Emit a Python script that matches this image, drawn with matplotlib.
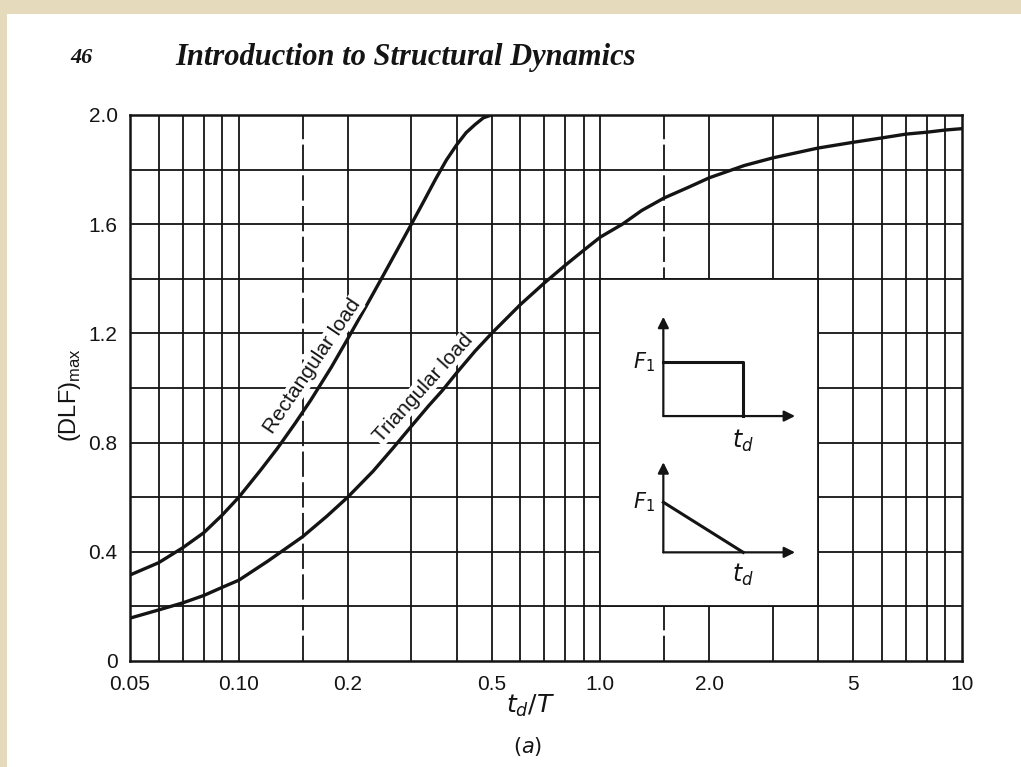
"""Maximum dynamic load factor vs t_d/T for rectangular and triangular pulse loads."""
import matplotlib
matplotlib.use("Agg")
import matplotlib.pyplot as plt
from matplotlib.patches import Rectangle

# values
rect_x = [0.05, 0.06, 0.07, 0.08, 0.09, 0.10, 0.115, 0.128, 0.143, 0.158, 0.18, 0.2,
          0.225, 0.249, 0.274, 0.3, 0.325, 0.35, 0.375, 0.4, 0.425, 0.45, 0.475, 0.5]
rect_y = [0.315, 0.36, 0.415, 0.47, 0.535, 0.60, 0.70, 0.78, 0.87, 0.955, 1.075, 1.18,
          1.30, 1.405, 1.505, 1.60, 1.685, 1.765, 1.835, 1.89, 1.935, 1.965, 1.99, 2.0]
tri_x = [0.05, 0.06, 0.07, 0.08, 0.09, 0.10, 0.12, 0.15, 0.175, 0.2, 0.235, 0.267, 0.3,
         0.335, 0.365, 0.4, 0.45, 0.5, 0.6, 0.7, 0.8, 0.9, 1.0, 1.15, 1.3, 1.5, 1.75,
         2.0, 2.5, 3.0, 4.0, 5.0, 6.0, 7.0, 8.0, 9.0, 10.0]
tri_y = [0.157, 0.187, 0.213, 0.24, 0.27, 0.296, 0.365, 0.455, 0.53, 0.60, 0.695, 0.78, 0.86,
         0.935, 0.99, 1.055, 1.135, 1.20, 1.305, 1.385, 1.45, 1.505, 1.553, 1.60, 1.65,
         1.696, 1.735, 1.77, 1.815, 1.843, 1.879, 1.90, 1.916, 1.93, 1.937, 1.945, 1.95]

x_ticks = [0.05, 0.1, 0.2, 0.5, 1.0, 2.0, 5.0, 10.0]
x_tick_labels = ["0.05", "0.10", "0.2", "0.5", "1.0", "2.0", "5", "10"]
y_ticks = [0, 0.4, 0.8, 1.2, 1.6, 2.0]
y_tick_labels = ["0", "0.4", "0.8", "1.2", "1.6", "2.0"]
v_grid = [0.06, 0.07, 0.08, 0.09, 0.1, 0.2, 0.3, 0.4, 0.5, 0.6, 0.7, 0.8, 0.9, 1.0,
          2.0, 3.0, 4.0, 5.0, 6.0, 7.0, 8.0, 9.0]
v_grid_dashed = [0.15, 1.5]
h_grid = [0.2, 0.4, 0.6, 0.8, 1.0, 1.2, 1.4, 1.6, 1.8]

INK = "#141414"
SANS = ["Liberation Sans", "DejaVu Sans"]

fig = plt.figure(figsize=(10.21, 7.67), dpi=100, facecolor="white")
# tan scan border (top and left)
fig.patches.append(Rectangle((0, 753 / 767), 1, 14 / 767, transform=fig.transFigure,
                             fc="#e6dabd", ec="none", zorder=0))
fig.patches.append(Rectangle((0, 0), 7 / 1021, 1, transform=fig.transFigure,
                             fc="#e6dabd", ec="none", zorder=0))

fig.text(70 / 1021, 1 - 58 / 767, "46", fontsize=16, fontweight="bold", fontstyle="italic",
         family="Liberation Serif", color=INK, va="center", ha="left")
fig.text(175 / 1021, 1 - 58 / 767, "Introduction to Structural Dynamics", fontsize=22,
         fontweight="bold", fontstyle="italic", family="Liberation Serif", color=INK,
         va="center", ha="left")

ax = fig.add_axes([130 / 1021, 106 / 767, 832 / 1021, 546 / 767])
ax.set_xscale("log")
ax.set_xlim(0.05, 10)
ax.set_ylim(0, 2.0)

for v in v_grid:
    ax.axvline(v, color=INK, lw=1.3, zorder=1)
for v in v_grid_dashed:
    ax.axvline(v, color=INK, lw=1.3, ls=(0, (14, 3)), zorder=1)
for h in h_grid:
    ax.axhline(h, color=INK, lw=1.3, zorder=1)

# white panel holding the load sketches
ax.add_patch(Rectangle((1.0, 0.2), 3.0, 1.2, fc="white", ec=INK, lw=1.3, zorder=2))

ax.plot(rect_x, rect_y, color=INK, lw=2.4, zorder=3, solid_capstyle="round")
ax.plot(tri_x, tri_y, color=INK, lw=2.4, zorder=3, solid_capstyle="round")

ax.text(0.16, 1.08, "Rectangular load", rotation=56, fontsize=15, family=SANS, color=INK,
        ha="center", va="center", zorder=4,
        bbox=dict(fc="white", ec="none", pad=0.5))
ax.text(0.323, 1.0, "Triangular load", rotation=48, fontsize=15, family=SANS, color=INK,
        ha="center", va="center", zorder=4,
        bbox=dict(fc="white", ec="none", pad=0.5))

ax.set_xticks(x_ticks)
ax.set_xticklabels(x_tick_labels)
ax.set_yticks(y_ticks)
ax.set_yticklabels(y_tick_labels)
ax.minorticks_off()
ax.tick_params(length=0, pad=9, labelsize=15, colors=INK)
ax.tick_params(axis="x", pad=10)
for lab in ax.get_xticklabels() + ax.get_yticklabels():
    lab.set_family(SANS)
for s in ax.spines.values():
    s.set_linewidth(1.8)
    s.set_color(INK)
    s.set_zorder(5)

fig.text(70 / 1021, 1 - 395 / 767, r"(DLF)$_{\mathregular{max}}$", rotation=90, fontsize=17,
         family=SANS, color=INK, ha="center", va="center")
fig.text(530 / 1021, 1 - 706 / 767, r"$t_d/T$", fontsize=18, color=INK, ha="center",
         va="center", math_fontfamily="dejavusans")
fig.text(528 / 1021, 1 - 746 / 767, r"$(a)$", fontsize=15, color=INK, ha="center",
         va="center", math_fontfamily="dejavusans")

# load sketches in the panel
ins = ax.inset_axes([1.0, 0.2, 3.0, 1.2], transform=ax.transData)
ins.set_xlim(0, 1)
ins.set_ylim(0, 1)
ins.axis("off")
arrow = dict(arrowstyle="-|>", color=INK, lw=1.6, mutation_scale=16, shrinkA=0, shrinkB=0)
for y0, ytop in [(0.581, 0.884), (0.165, 0.44)]:
    ins.annotate("", xy=(0.289, ytop), xytext=(0.289, y0), arrowprops=arrow)
    ins.annotate("", xy=(0.894, y0), xytext=(0.289, y0), arrowprops=arrow)
ins.plot([0.289, 0.656, 0.656], [0.746, 0.746, 0.581], color=INK, lw=2.2)
ins.plot([0.289, 0.656], [0.318, 0.165], color=INK, lw=2.2)
for yl in [0.746, 0.318]:
    ins.text(0.25, yl, r"$F_1$", fontsize=15, ha="right", va="center", color=INK,
             math_fontfamily="dejavusans")
for yl in [0.505, 0.095]:
    ins.text(0.656, yl, r"$t_d$", fontsize=17, ha="center", va="center", color=INK,
             math_fontfamily="dejavusans")

fig.savefig("out.png", dpi=100, facecolor="white")
